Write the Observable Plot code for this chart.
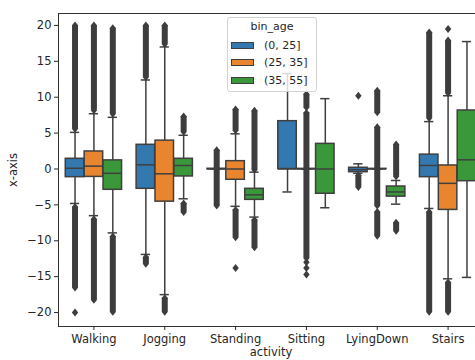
<!DOCTYPE html>
<html>
<head>
<meta charset="utf-8">
<script src="https://cdn.jsdelivr.net/npm/d3@7"></script>
<script src="https://cdn.jsdelivr.net/npm/@observablehq/plot@0.6"></script>
<style>
  html, body { margin: 0; padding: 0; background: #fff; overflow: hidden; }
  #wrap { position: relative; width: 475px; height: 360px; }
  #legend {
    position: absolute; left: 227px; top: 17px; width: 90px; height: 75px;
    box-sizing: border-box; border: 1px solid #d2d2d2; border-radius: 3px;
    background: rgba(255,255,255,0.8);
    font-family: "DejaVu Sans", sans-serif; font-size: 11px; color: #262626;
  }
  #legend .title { position: absolute; left: 0; right: 0; top: 2px; text-align: center; line-height: 14px; }
  #legend .row { position: absolute; left: 2px; height: 14px; line-height: 14px; white-space: nowrap; }
  #legend .sw { position: absolute; left: 1px; top: 3px; width: 23px; height: 7px; border: 1px solid #3f3f3f; box-sizing: border-box; }
  #legend .lab { position: absolute; left: 34px; top: 0; }
</style>
</head>
<body>
<div id="wrap"><div id="legend"></div></div>
<script>
const activities = ["Walking", "Jogging", "Standing", "Sitting", "LyingDown", "Stairs"];
const ageBins = ["(0, 25]", "(25, 35]", "(35, 55]"];
const binColors = ["#3478b0", "#e9852e", "#3a973a"];
const yTicks = [-20, -15, -10, -5, 0, 5, 10, 15, 20];

// per activity: [ (0,25], (25,35], (35,55] ]
const whiskerLow = [
  [-4.8, -6.5, -8.9],
  [-11.9, -17.5, -4.15],
  [0, -5.2, -6.7],
  [-3.2, 0, -5.4],
  [-0.6, 0, -4.9],
  [-5.5, -15.3, -15.1]
];
const q1 = [
  [-1.14, -1.1, -2.9],
  [-2.76, -4.55, -1.04],
  [-0.03, -1.5, -4.3],
  [0, -0.02, -3.45],
  [-0.45, -0.02, -3.85],
  [-1.14, -5.7, -1.7]
];
const median = [
  [0.1, 0.4, -0.6],
  [0.58, -0.67, 0.49],
  [0, 0, -3.6],
  [0, 0, 0],
  [-0.1, 0, -3.2],
  [0.49, -2.0, 1.28]
];
const q3 = [
  [1.42, 2.44, 1.2],
  [3.37, 3.95, 1.42],
  [0.03, 1.09, -2.76],
  [6.66, 0.02, 3.5],
  [0.17, 0.02, -2.44],
  [2.0, 0.49, 8.15]
];
const whiskerHigh = [
  [5.1, 7.7, 7.2],
  [12.4, 17.0, 4.7],
  [0, 4.9, -0.44],
  [13.3, 0, 9.8],
  [0.72, 0, -1.6],
  [6.6, 10.2, 17.75]
];

// dense runs of outliers: [activity, bin, low, high]
const outlierRuns = [
  ["Walking", 0, 5.6, 20.0], ["Walking", 0, -16.5, -5.3],
  ["Walking", 1, 8.2, 20.0], ["Walking", 1, -18.2, -7.0],
  ["Walking", 2, 7.7, 19.6], ["Walking", 2, -19.9, -9.4],
  ["Jogging", 0, 12.8, 20.0], ["Jogging", 0, -13.2, -12.3],
  ["Jogging", 1, 17.4, 20.0], ["Jogging", 1, -19.9, -18.0],
  ["Jogging", 2, 5.2, 7.3], ["Jogging", 2, -6.0, -4.8],
  ["Standing", 0, -5.1, 2.6],
  ["Standing", 1, 5.4, 8.3], ["Standing", 1, -9.5, -5.7],
  ["Standing", 2, -0.1, 8.1], ["Standing", 2, -10.9, -7.1],
  ["Sitting", 1, -12.4, 7.8], ["Sitting", 1, 8.6, 10.4],
  ["LyingDown", 0, -2.5, -0.9],
  ["LyingDown", 1, -5.1, 5.8], ["LyingDown", 1, 7.9, 10.9], ["LyingDown", 1, -9.3, -6.0],
  ["LyingDown", 2, -1.0, 3.4], ["LyingDown", 2, -8.6, -7.5],
  ["Stairs", 0, 7.1, 19.0], ["Stairs", 0, -19.9, -6.0],
  ["Stairs", 1, 10.6, 17.9], ["Stairs", 1, -19.9, -15.8]
];
// isolated outliers: [activity, bin, value]
const outlierPoints = [
  ["Walking", 0, -20.0],
  ["Standing", 1, -13.8],
  ["Sitting", 1, -13.0], ["Sitting", 1, -13.8], ["Sitting", 1, -14.7],
  ["LyingDown", 0, 10.2],
  ["Stairs", 1, 19.5]
];

// layout of dodged boxes (seaborn style)
const groupWidth = 0.8;
const boxStep = groupWidth / ageBins.length;
const boxHalf = boxStep * 0.98 / 2;
const capHalf = boxHalf / 2;
const xPos = (ai, bi) => ai + (bi - (ageBins.length - 1) / 2) * boxStep;

const boxes = [];
activities.forEach((a, ai) => ageBins.forEach((b, bi) => boxes.push({
  activity: a, bin: b, x: xPos(ai, bi),
  wl: whiskerLow[ai][bi], q1: q1[ai][bi], med: median[ai][bi], q3: q3[ai][bi], wh: whiskerHigh[ai][bi]
})));
const runs = outlierRuns.map(([a, bi, lo, hi]) => ({x: xPos(activities.indexOf(a), bi), lo, hi}));
const ends = runs.flatMap(r => [{x: r.x, y: r.lo}, {x: r.x, y: r.hi}])
  .concat(outlierPoints.map(([a, bi, v]) => ({x: xPos(activities.indexOf(a), bi), y: v})));

const gray = "#3f3f3f";
const flierGray = "#3d3d3d";
const thinDiamond = {
  draw(ctx, size) {
    const h = Math.sqrt(size / Math.PI);
    const w = h * 0.8;
    ctx.moveTo(0, -h); ctx.lineTo(w, 0); ctx.lineTo(0, h); ctx.lineTo(-w, 0); ctx.closePath();
  }
};

const chart = Plot.plot({
  width: 475,
  height: 360,
  marginLeft: 58,
  marginRight: -8,
  marginTop: 13,
  marginBottom: 34,
  style: {fontFamily: "DejaVu Sans, sans-serif", fontSize: "11.5px", color: "#262626", background: "white"},
  x: {type: "linear", domain: [-0.5, activities.length - 0.5], axis: null},
  y: {domain: [-21.94, 21.66], axis: null},
  color: {domain: ageBins, range: binColors},
  marks: [
    Plot.ruleX(boxes, {x: "x", y1: "wl", y2: "q1", stroke: gray, strokeWidth: 1.5}),
    Plot.ruleX(boxes, {x: "x", y1: "q3", y2: "wh", stroke: gray, strokeWidth: 1.5}),
    Plot.ruleY(boxes, {y: "wl", x1: d => d.x - capHalf, x2: d => d.x + capHalf, stroke: gray, strokeWidth: 1.5}),
    Plot.ruleY(boxes, {y: "wh", x1: d => d.x - capHalf, x2: d => d.x + capHalf, stroke: gray, strokeWidth: 1.5}),
    Plot.rect(boxes, {x1: d => d.x - boxHalf, x2: d => d.x + boxHalf, y1: "q1", y2: "q3", fill: "bin", stroke: gray, strokeWidth: 1.5}),
    Plot.ruleY(boxes, {y: "med", x1: d => d.x - boxHalf, x2: d => d.x + boxHalf, stroke: gray, strokeWidth: 1.5}),
    Plot.ruleX(runs, {x: "x", y1: "lo", y2: "hi", stroke: flierGray, strokeWidth: 6}),
    Plot.dot(ends, {x: "x", y: "y", r: 4, symbol: thinDiamond, fill: flierGray, stroke: "none"}),
    Plot.frame({stroke: "#333", strokeWidth: 1}),
    Plot.axisX({ticks: activities.map((_, i) => i), tickFormat: i => activities[i], tickSize: 4, tickPadding: 4, label: null}),
    Plot.axisY({ticks: yTicks, tickSize: 4, tickPadding: 3, label: null}),
    Plot.text(["activity"], {frameAnchor: "bottom", dy: 26, lineAnchor: "middle", textAnchor: "middle"}),
    Plot.text(["x-axis"], {frameAnchor: "left", dx: -45, rotate: -90, lineAnchor: "middle", textAnchor: "middle"})
  ]
});
const wrap = document.getElementById("wrap");
wrap.insertBefore(chart, wrap.firstChild);

// legend
const legend = document.getElementById("legend");
const title = document.createElement("div");
title.className = "title";
title.textContent = "bin_age";
legend.appendChild(title);
ageBins.forEach((b, i) => {
  const row = document.createElement("div");
  row.className = "row";
  row.style.top = (21 + i * 17.3) + "px";
  const sw = document.createElement("span");
  sw.className = "sw";
  sw.style.background = binColors[i];
  const lab = document.createElement("span");
  lab.className = "lab";
  lab.textContent = b;
  row.appendChild(sw);
  row.appendChild(lab);
  legend.appendChild(row);
});
</script>
</body>
</html>
